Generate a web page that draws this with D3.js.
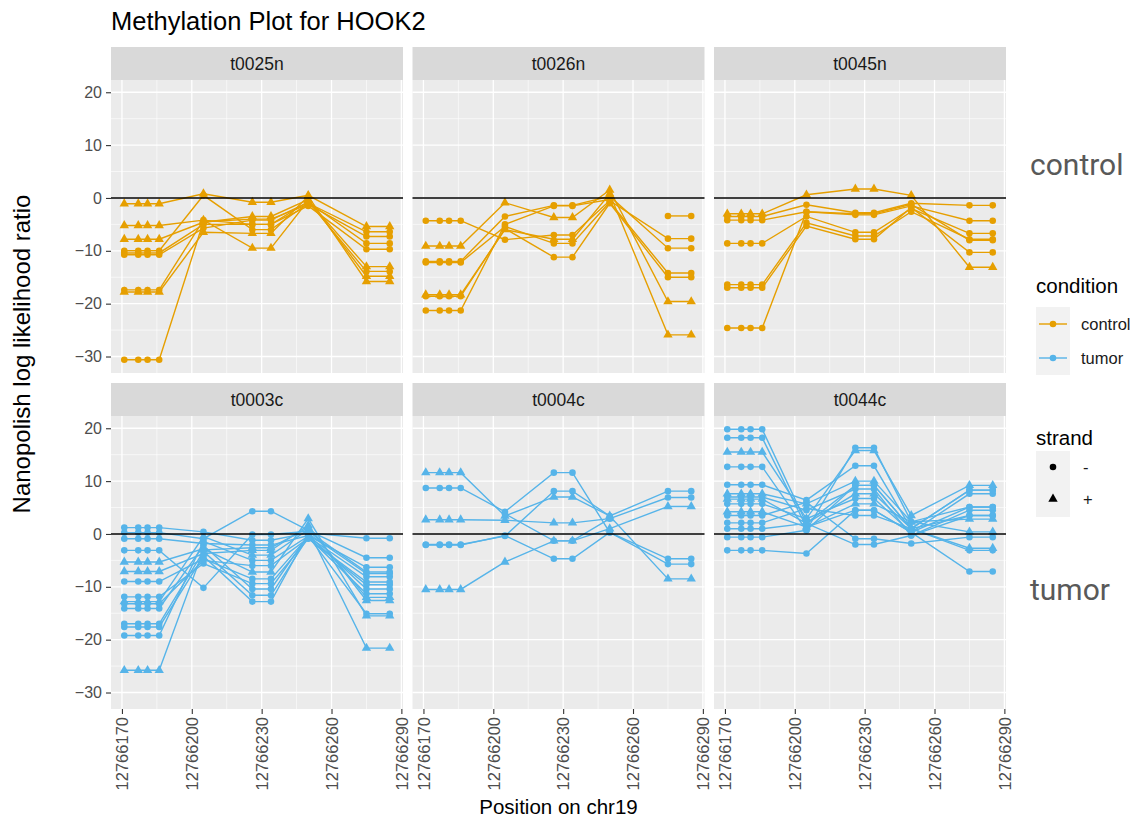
<!DOCTYPE html>
<html>
<head>
<meta charset="utf-8">
<script src="https://cdn.jsdelivr.net/npm/d3@7"></script>
<style>
  body { margin: 0; background: #fff; }
  svg { display: block; }
</style>
</head>
<body>
<div id="chart"></div>
<script>
// ---- data ----
const samples = ["t0025n", "t0026n", "t0045n", "t0003c", "t0004c", "t0044c"];
const sampleCondition = ["control", "control", "control", "tumor", "tumor", "tumor"];

// CpG positions on chr19 and the nanopolish call group each belongs to
const cpgPositions = [12766171, 12766177, 12766181, 12766186, 12766205, 12766226, 12766234, 12766250, 12766275, 12766285];
const cpgGroup = [0, 0, 0, 0, 1, 2, 2, 3, 4, 4];

const yTicks = [-30, -20, -10, 0, 10, 20];
const xTicks = [12766170, 12766200, 12766230, 12766260, 12766290];

const conditions = ["control", "tumor"];
const strands = ["-", "+"];

// one row per read: strand, then log likelihood ratio of call groups A..E (null = not covered)
const t0025nReads = [
  ["+", -1.1, 0.8, -0.8, 0.5, -5.4],
  ["+", -5.2, -4.2, -9.5, -0.5, -13.0],
  ["+", -7.8, -4.6, -3.5, -0.3, -14.8],
  ["-", -10.0, 0.5, -6.0, -1.0, -6.4],
  ["-", -10.75, -5.7, -4.2, -0.8, -8.6],
  ["-", -17.4, -4.2, -5.0, -1.5, -9.7],
  ["+", -17.8, -6.5, -6.7, 0.3, -15.8],
  ["-", -30.6, -4.5, -4.0, -1.2, -7.3],
  ["-", -10.4, -5.0, -5.0, -0.7, -13.9]
];
const t0026nReads = [
  ["-", -4.3, -7.9, -7.0, -0.5, -7.7],
  ["+", -9.1, -0.9, -3.7, 1.5, -19.6],
  ["-", -12.0, -3.5, -1.4, 0.3, -9.5],
  ["-", -12.2, -5.4, -8.6, -0.8, -14.2],
  ["+", -18.3, -6.0, -7.8, 0.8, -25.9],
  ["-", -18.6, -5.8, -11.2, -1.0, -15.0],
  ["-", -21.3, -5.0, -1.5, -0.3, null],
  ["-", null, null, null, null, -3.4]
];
const t0045nReads = [
  ["+", -3.0, 0.6, 1.7, 0.5, -13.1],
  ["-", -3.5, -1.3, -2.8, -1.0, -1.4],
  ["-", -4.2, -2.6, -3.2, -1.5, -4.3],
  ["-", -8.6, -3.5, -6.5, -2.0, -6.7],
  ["-", -16.4, -4.7, -7.2, -2.6, -7.8],
  ["-", -17.0, -5.3, -7.8, -1.8, -10.3],
  ["-", -24.6, -2.6, -3.0, -1.2, -8.0]
];
const t0003cReads = [
  ["-", 1.2, 0.4, -1.2, 0.2, -0.8],
  ["-", 0.25, -0.9, 4.3, 0.7, -4.5],
  ["-", -0.9, -1.8, -2.1, -0.3, -6.3],
  ["-", -3.1, -10.2, -0.1, 0.5, -7.2],
  ["+", -5.3, -2.8, -7.2, 2.9, -15.5],
  ["+", -7.1, -3.7, -3.1, 1.6, -12.6],
  ["-", -9.0, -4.7, -8.5, -0.5, -8.1],
  ["-", -11.9, -5.6, -9.4, -0.9, -9.1],
  ["+", -12.8, -0.5, -4.0, 0.8, -21.6],
  ["-", -14.1, -2.2, -10.4, -0.2, -10.4],
  ["-", -17.0, -3.3, -11.6, -0.6, -11.3],
  ["-", -17.6, -4.2, -12.8, 0.1, -7.5],
  ["-", -19.2, -1.4, -5.0, -0.4, -15.1],
  ["+", -25.8, -3.0, -2.6, 1.2, -12.0],
  ["-", -13.2, -5.0, -6.0, -0.8, -9.6]
];
const t0004cReads = [
  ["+", 11.6, 3.4, 7.0, 3.4, -8.5],
  ["-", 8.7, 4.2, 11.6, 0.3, -4.7],
  ["+", 2.7, 2.6, 2.1, 2.9, null],
  ["-", -2.0, -0.4, 8.1, 3.4, 8.1],
  ["-", -2.1, -0.3, -4.7, 0.3, -5.7],
  ["+", -10.5, -5.3, -1.3, 1.0, 5.2],
  ["-", null, 3.8, -1.3, 2.9, 6.9]
];
const t0044cReads = [
  ["-", 19.8, 2.0, 9.2, 1.0, 3.5],
  ["-", 18.2, 1.3, 4.5, 0.3, -7.1],
  ["+", 15.5, 2.9, 15.8, 3.5, 9.2],
  ["-", 12.7, 0.7, 16.3, 2.3, 5.1],
  ["-", 9.3, 6.4, 12.9, 1.0, 8.3],
  ["+", 7.6, 5.7, 10.0, 2.3, 2.8],
  ["-", 7.0, 4.5, 8.5, -0.3, 4.5],
  ["+", 6.6, 2.0, 7.6, 1.0, -2.7],
  ["-", 5.7, 2.9, 6.7, 0.3, 7.6],
  ["+", 4.2, 1.3, 5.7, 2.3, 0.4],
  ["-", 3.5, 6.0, -0.9, -1.8, -0.6],
  ["-", 2.1, 4.8, 3.5, 1.0, -3.1],
  ["-", 1.0, 2.0, -2.0, -0.3, 3.5],
  ["-", -0.6, 0.7, 9.2, 1.0, 8.3],
  ["-", -3.1, -3.7, 4.5, 0.3, 5.1]
];

const readsBySample = {
  t0025n: t0025nReads, t0026n: t0026nReads, t0045n: t0045nReads,
  t0003c: t0003cReads, t0004c: t0004cReads, t0044c: t0044cReads
};

// ---- layout ----
const W = 1134, H = 821;
const panelW = 292, panelH = 293, stripH = 33;
const colX = [111, 412.5, 714];
const rowY = [47, 383];
const fontMain = "'Liberation Sans', Arial, Helvetica, sans-serif";
const colour = d3.scaleOrdinal().domain(conditions).range(["#E69F00", "#56B4E9"]);
const shape = d3.scaleOrdinal().domain(strands).range([d3.symbolCircle, d3.symbolTriangle]);

const svg = d3.select("#chart").append("svg")
    .attr("width", W)
    .attr("height", H)
    .style("font-family", fontMain);

// build long table of reads -> points
function readPoints(row) {
  const pts = [];
  cpgPositions.forEach((p, i) => {
    const v = row[1 + cpgGroup[i]];
    if (v !== null) pts.push({pos: p, llr: v, strand: row[0]});
  });
  return pts;
}

const allValues = [];
samples.forEach(s => readsBySample[s].forEach(r => r.slice(1).forEach(v => { if (v !== null) allValues.push(v); })));
const yMin = d3.min(allValues), yMax = d3.max(allValues);
const yPad = (yMax - yMin) * 0.05;
const xMin = d3.min(cpgPositions), xMax = d3.max(cpgPositions);
const xPad = (xMax - xMin) * 0.05;

const x = d3.scaleLinear().domain([xMin - xPad, xMax + xPad]).range([0, panelW]);
const y = d3.scaleLinear().domain([yMin - yPad, yMax + yPad]).range([panelH, 0]);

const yMinor = d3.range(-35, 30, 10).filter(v => v > y.domain()[0] && v < y.domain()[1]);
const xMinor = [12766185, 12766215, 12766245, 12766275];

// title
svg.append("text")
    .attr("x", 111)
    .attr("y", 30)
    .attr("font-size", 25.5)
    .attr("fill", "#000")
    .text("Methylation Plot for HOOK2");

const line = d3.line().x(d => x(d.pos)).y(d => y(d.llr));

samples.forEach((s, k) => {
  const col = k % 3, row = Math.floor(k / 3);
  const g = svg.append("g").attr("transform", `translate(${colX[col]},${rowY[row]})`);

  // strip
  g.append("rect").attr("width", panelW).attr("height", stripH).attr("fill", "#d9d9d9");
  g.append("text")
      .attr("x", panelW / 2)
      .attr("y", stripH / 2 + 6)
      .attr("text-anchor", "middle")
      .attr("font-size", 17.5)
      .attr("fill", "#1a1a1a")
      .text(s);

  const p = g.append("g").attr("transform", `translate(0,${stripH})`);
  p.append("rect").attr("width", panelW).attr("height", panelH).attr("fill", "#ebebeb");

  // grid
  p.selectAll(".ymin").data(yMinor).enter().append("line")
      .attr("x1", 0).attr("x2", panelW)
      .attr("y1", d => y(d)).attr("y2", d => y(d))
      .attr("stroke", "#fff").attr("stroke-width", 0.6);
  p.selectAll(".xmin").data(xMinor).enter().append("line")
      .attr("y1", 0).attr("y2", panelH)
      .attr("x1", d => x(d)).attr("x2", d => x(d))
      .attr("stroke", "#fff").attr("stroke-width", 0.6);
  p.selectAll(".ymaj").data(yTicks).enter().append("line")
      .attr("x1", 0).attr("x2", panelW)
      .attr("y1", d => y(d)).attr("y2", d => y(d))
      .attr("stroke", "#fff").attr("stroke-width", 1.3);
  p.selectAll(".xmaj").data(xTicks).enter().append("line")
      .attr("y1", 0).attr("y2", panelH)
      .attr("x1", d => x(d)).attr("x2", d => x(d))
      .attr("stroke", "#fff").attr("stroke-width", 1.3);

  // reads
  const c = colour(sampleCondition[k]);
  const reads = readsBySample[s].map(readPoints);
  p.selectAll(".read").data(reads).enter().append("path")
      .attr("d", line)
      .attr("fill", "none")
      .attr("stroke", c)
      .attr("stroke-width", 1.4);
  p.selectAll(".pt").data(reads.flat()).enter().append("path")
      .attr("transform", d => `translate(${x(d.pos)},${y(d.llr)})`)
      .attr("d", d => d3.symbol().type(shape(d.strand)).size(d.strand === "+" ? 38 : 34)())
      .attr("fill", c);

  // zero line
  p.append("line")
      .attr("x1", 0).attr("x2", panelW)
      .attr("y1", y(0)).attr("y2", y(0))
      .attr("stroke", "#000").attr("stroke-width", 1.6);

  // y axis on left column
  if (col === 0) {
    const ya = p.append("g").call(d3.axisLeft(y).tickValues(yTicks).tickSize(5).tickPadding(4));
    ya.select(".domain").remove();
    ya.selectAll(".tick line").attr("stroke", "#333").attr("stroke-width", 1.1);
    ya.selectAll(".tick text").attr("font-size", 16).attr("fill", "#4d4d4d").attr("font-family", fontMain);
  }
  // x axis on bottom row
  if (row === 1) {
    const xa = p.append("g").attr("transform", `translate(0,${panelH})`)
        .call(d3.axisBottom(x).tickValues(xTicks).tickFormat(d3.format("d")).tickSize(5).tickPadding(4));
    xa.select(".domain").remove();
    xa.selectAll(".tick line").attr("stroke", "#333").attr("stroke-width", 1.1);
    xa.selectAll(".tick text")
        .attr("font-size", 16.5)
        .attr("fill", "#4d4d4d")
        .attr("font-family", fontMain)
        .attr("transform", "rotate(-90)")
        .attr("text-anchor", "end")
        .attr("x", -8)
        .attr("y", 0)
        .attr("dy", "0.35em");
  }
});

// axis titles
svg.append("text")
    .attr("x", (colX[0] + colX[2] + panelW) / 2)
    .attr("y", 814)
    .attr("text-anchor", "middle")
    .attr("font-size", 20.5)
    .attr("fill", "#000")
    .text("Position on chr19");

svg.append("text")
    .attr("transform", "translate(30,354) rotate(-90)")
    .attr("text-anchor", "middle")
    .attr("font-size", 24)
    .attr("fill", "#000")
    .text("Nanopolish log likelihood ratio");

// row labels added on the right
svg.append("text")
    .attr("x", 1030).attr("y", 175)
    .attr("font-size", 30)
    .attr("font-family", "Roboto, sans-serif")
    .attr("fill", "#595959")
    .text("control");
svg.append("text")
    .attr("x", 1030).attr("y", 600)
    .attr("font-size", 30)
    .attr("font-family", "Roboto, sans-serif")
    .attr("fill", "#595959")
    .text("tumor");

// legends
const lg = svg.append("g").attr("transform", "translate(1036,0)");
lg.append("text").attr("x", 0).attr("y", 293).attr("font-size", 20.5).attr("fill", "#000").text("condition");
lg.append("rect").attr("x", 0).attr("y", 307).attr("width", 34).attr("height", 68).attr("fill", "#f2f2f2");
conditions.forEach((cnd, i) => {
  const cy = 324 + i * 34;
  lg.append("line").attr("x1", 3).attr("x2", 31).attr("y1", cy).attr("y2", cy)
      .attr("stroke", colour(cnd)).attr("stroke-width", 1.4);
  lg.append("path").attr("transform", `translate(17,${cy})`)
      .attr("d", d3.symbol().type(d3.symbolCircle).size(34)()).attr("fill", colour(cnd));
  lg.append("text").attr("x", 45).attr("y", cy + 6).attr("font-size", 16.5).attr("fill", "#1a1a1a").text(cnd);
});

lg.append("text").attr("x", 0).attr("y", 445).attr("font-size", 20.5).attr("fill", "#000").text("strand");
lg.append("rect").attr("x", 0).attr("y", 451).attr("width", 34).attr("height", 66).attr("fill", "#f2f2f2");
strands.forEach((st, i) => {
  const cy = 467 + i * 32;
  lg.append("path").attr("transform", `translate(17,${cy})`)
      .attr("d", d3.symbol().type(shape(st)).size(st === "+" ? 38 : 34)()).attr("fill", "#000");
  lg.append("text").attr("x", 47).attr("y", cy + 6).attr("font-size", 16.5).attr("fill", "#1a1a1a").text(st);
});
</script>
</body>
</html>
